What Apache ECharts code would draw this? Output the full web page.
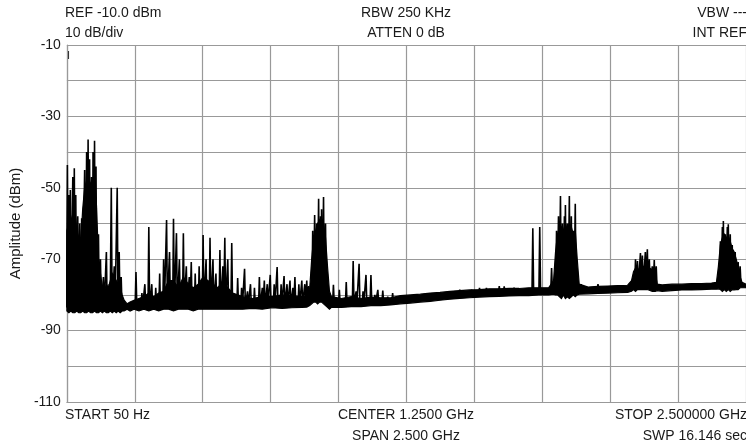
<!DOCTYPE html>
<html><head><meta charset="utf-8">
<script src="https://cdn.jsdelivr.net/npm/echarts@6/dist/echarts.min.js"></script>
<style>html,body{margin:0;padding:0;background:#fff}#c{width:746px;height:446px}</style>
</head><body><div id="c"></div>
<script>
// Frequency in MHz, amplitude in dBm
const yTickLabels = [-110, -90, -70, -50, -30, -10];
const headerTexts = ['REF -10.0 dBm', '10 dB/div', 'RBW 250 KHz', 'ATTEN 0 dB', 'VBW ---', 'INT REF'];
const footerTexts = ['START 50 Hz', 'CENTER 1.2500 GHz', 'SPAN 2.500 GHz', 'STOP 2.500000 GHz', 'SWP 16.146 sec'];

// Noise band envelope (lower / upper edge of the dense trace)
const bandFreq = [0,7.3,14.5,21.8,29.1,36.3,43.6,50.9,58.1,65.4,72.7,79.9,87.2,94.5,101.8,109.0,116.3,123.6,130.8,138.1,145.4,152.6,159.9,167.2,174.4,181.7,189.0,196.2,203.5,210.8,221.7,232.6,247.1,265.3,283.5,301.6,319.8,338.0,356.1,374.3,392.5,410.6,428.8,447.0,465.2,483.3,501.5,519.7,537.8,556.0,574.2,592.3,610.5,646.9,683.2,719.5,755.9,792.2,828.6,864.9,883.1,894.0,901.2,908.5,915.8,923.0,930.3,937.6,944.8,952.1,959.4,966.6,973.9,1010.3,1046.6,1082.9,1119.3,1155.6,1192.0,1228.3,1264.6,1301.0,1337.3,1373.7,1410.0,1446.3,1482.7,1519.0,1555.4,1591.7,1628.0,1664.4,1700.7,1737.1,1773.4,1791.6,1798.8,1806.1,1813.4,1820.6,1827.9,1835.2,1842.4,1849.7,1857.0,1864.2,1871.5,1878.8,1886.0,1918.8,1955.1,1991.4,2027.8,2064.1,2078.6,2085.9,2093.2,2100.5,2118.6,2136.8,2155.0,2165.9,2173.1,2191.3,2227.6,2264.0,2300.3,2336.6,2373.0,2391.2,2398.4,2405.7,2413.0,2420.2,2427.5,2434.8,2442.0,2449.3,2456.6,2463.9,2471.1,2478.4,2485.7,2500];
const bandLow = [-84.5,-85,-84.5,-85,-85,-84.5,-85,-85,-84.5,-85,-85,-84.5,-85,-85,-84.5,-85,-85,-84.5,-85,-84.5,-85,-85,-84.5,-85,-84.5,-85,-84.5,-85,-84.5,-84.5,-84,-84.5,-84,-84.5,-84,-84.5,-84,-84.5,-84,-84,-84.5,-84,-84,-84,-84.5,-84,-84,-84,-84,-84,-84,-84,-84,-84,-83.8,-84,-83.6,-83.8,-83.6,-83.5,-83.4,-83,-82.5,-82,-82,-82.5,-82,-82,-82.5,-83,-83.5,-84,-83.5,-83.5,-83.3,-83.3,-83,-83,-82.8,-82.5,-82.3,-82,-81.8,-81.5,-81.2,-81,-80.8,-80.6,-80.5,-80.4,-80.3,-80.2,-80.2,-80,-80,-79.8,-80,-80,-80.5,-81,-80,-81,-80.5,-81,-80.5,-80,-80.5,-80,-79.8,-79.7,-79.6,-79.5,-79.4,-79.3,-79,-78.5,-79,-78.5,-78.5,-78.5,-79,-79,-78.8,-79,-78.8,-78.6,-78.6,-78.5,-78.4,-78.4,-78.3,-78.5,-79,-78.5,-79,-78.5,-79,-78.5,-78.6,-78.5,-78.5,-78,-78,-78];
const bandHigh = [-62,-60,-58,-60,-56,-62,-64,-66,-56,-50,-48,-47,-49,-48,-47,-55,-70,-74,-78,-79,-77,-78,-76,-74,-75,-76,-77,-78,-80,-81.5,-82.5,-82,-81.5,-81,-80.5,-79.5,-80.5,-79.5,-79,-76,-76,-78,-75,-77,-78,-77,-75,-76,-77,-78,-76,-78,-79.5,-80.5,-81,-80.5,-80.5,-80,-80.3,-80.5,-80.5,-78,-70,-64,-62,-60,-59,-61,-60,-64,-72,-79,-80.5,-81,-80.5,-81,-80.6,-80.8,-80.8,-80.2,-80,-79.8,-79.5,-79.3,-79,-78.8,-78.6,-78.5,-78.3,-78.3,-78.2,-78.2,-78,-78,-78,-76,-68,-63,-62,-61,-62,-60,-62,-60,-61,-63,-62,-70,-77,-77.8,-77.6,-77.5,-77.4,-77.3,-76,-73.5,-72.5,-73,-72,-72,-73,-74,-77,-77.2,-77,-77,-76.8,-76.8,-76.7,-76.5,-72,-66,-64,-63,-64,-63.5,-65,-67,-68,-70,-72,-75,-76.5,-77];

// Individual spikes (peak frequency, peak level)
const spikeFreq = [1.8,7.3,12.7,21.8,27.3,32.7,40.0,47.2,54.5,65.4,72.7,78.1,83.6,90.9,96.3,101.8,107.2,116.3,123.6,134.5,145.4,156.3,163.5,174.4,185.3,192.6,199.9,254.4,276.2,287.1,301.6,312.5,327.1,341.6,356.1,367.0,377.9,392.5,403.4,414.3,428.8,439.7,450.6,457.9,472.4,486.9,501.5,512.4,526.9,537.8,548.7,563.3,574.2,581.4,592.3,606.9,628.7,643.2,654.1,665.0,675.9,690.5,708.6,719.5,726.8,737.7,748.6,763.1,774.0,788.6,799.5,810.4,821.3,832.2,839.5,854.0,864.9,875.8,883.1,890.3,904.9,912.1,919.4,926.7,933.9,937.6,944.8,952.1,981.2,1003.0,1028.4,1053.9,1064.8,1075.7,1090.2,1101.1,1119.3,1133.8,1144.7,1162.9,1181.1,1199.2,1446.3,1489.9,1519.0,1544.5,1591.7,1609.9,1646.2,1715.2,1740.7,1784.3,1802.5,1809.7,1817.0,1824.3,1831.5,1835.2,1842.4,1849.7,1857.0,1864.2,1871.5,1893.3,1955.1,2093.2,2100.5,2111.4,2118.6,2129.5,2136.8,2144.1,2155.0,2162.3,2169.5,2405.7,2413.0,2416.6,2423.9,2431.2,2434.8,2442.0,2449.3,2453.0,2460.2,2471.1,2478.4];
const spikeTop = [-43.6,-52,-50.6,-47,-44.5,-52,-58,-60,-58.5,-45,-40,-36.5,-42,-47,-40,-36.8,-44,-63,-70,-75,-68,-77,-50,-72,-50,-68,-75,-73.6,-79.5,-77,-61,-77,-78,-74,-70,-59,-68,-58.7,-62.7,-70,-62.7,-72,-75,-70.8,-74,-72,-63.2,-70,-64,-70,-74,-67.4,-72,-64,-70,-65.5,-75.3,-78,-72.7,-79,-77,-78,-75,-78,-76,-77,-74.4,-77,-72.2,-77,-74.7,-77,-76,-78,-75,-77,-76,-77,-76,-77.5,-62,-57.6,-60,-53.1,-58,-56,-52.6,-60,-77.2,-78.6,-76.4,-70.5,-79,-71.3,-79,-74.4,-74.4,-80,-78.6,-78.8,-80.5,-79.5,-78.5,-78.5,-78,-78,-77.5,-77.6,-78,-61.3,-61,-72.5,-62,-58,-52.3,-60,-58,-54.8,-60,-52.3,-58,-62,-54.5,-77,-77,-70,-70.5,-68.3,-69,-68,-67.2,-70,-72,-70.2,-72,-65,-61,-59.3,-63,-61,-60.2,-63,-66,-67.4,-68,-70.8,-72];

function nearestBandIndex(f) {
  let best = 0;
  for (let i = 1; i < bandFreq.length; i++) {
    if (Math.abs(bandFreq[i] - f) < Math.abs(bandFreq[best] - f)) best = i;
  }
  return best;
}
const spikeData = [];
spikeFreq.forEach((f, i) => {
  const k = nearestBandIndex(f);
  const base = bandLow[k] + 1;
  spikeData.push([f - 3, base], [f, spikeTop[i]], [f + 3, base]);
});

const FONT = '14px "Liberation Sans", Arial, sans-serif';
const TXT = '#1a1a1a';
function txt(text, x, y, align) {
  return { type: 'text', x: x, y: y, silent: true,
    style: { text: text, fill: TXT, font: FONT, align: align, verticalAlign: 'middle', textAlign: align, textVerticalAlign: 'middle' } };
}

const chart = echarts.init(document.getElementById('c'), null, { renderer: 'canvas' });
chart.setOption({
  animation: false,
  backgroundColor: '#fff',
  grid: { left: 62, top: 45, width: 688, height: 357 },
  xAxis: {
    type: 'value', min: 0, max: 2500, interval: 250,
    axisLine: { show: true, lineStyle: { color: '#999', width: 1.2 } },
    axisTick: { show: false },
    axisLabel: { show: false },
    splitLine: { show: true, lineStyle: { color: '#999', width: 1.2 } }
  },
  yAxis: {
    type: 'value', min: -110, max: -10, interval: 10,
    name: 'Amplitude (dBm)', nameLocation: 'middle', nameGap: 40,
    nameTextStyle: { color: TXT, fontSize: 15, fontFamily: '"Liberation Sans", Arial, sans-serif' },
    axisLine: { show: true, lineStyle: { color: '#999', width: 1.2 } },
    axisTick: { show: false },
    axisLabel: { color: TXT, fontSize: 14, fontFamily: '"Liberation Sans", Arial, sans-serif', margin: 6,
      formatter: v => (yTickLabels.indexOf(v) >= 0 ? String(v) : '') },
    splitLine: { show: true, lineStyle: { color: '#999', width: 1.2 } }
  },
  series: [
    { type: 'custom', clip: true, z: 3, data: [[bandFreq[0], bandLow[0]]],
      renderItem: function (params, api) {
        const pts = [];
        for (let i = 0; i < bandFreq.length; i++) pts.push(api.coord([bandFreq[i], bandHigh[i]]));
        for (let i = bandFreq.length - 1; i >= 0; i--) pts.push(api.coord([bandFreq[i], bandLow[i]]));
        return { type: 'polygon', shape: { points: pts }, style: { fill: '#000', stroke: '#000', lineWidth: 1.2 } };
      } },
    { type: 'line', data: spikeData, symbol: 'none',
      lineStyle: { color: '#000', width: 1.6 }, z: 4 }
  ],
  graphic: [
    txt(headerTexts[0], 65, 13, 'left'),
    txt(headerTexts[1], 65, 33, 'left'),
    txt(headerTexts[2], 406, 13, 'center'),
    txt(headerTexts[3], 406, 33, 'center'),
    txt(headerTexts[4], 747, 13, 'right'),
    txt(headerTexts[5], 747, 33, 'right'),
    txt(footerTexts[0], 65, 415, 'left'),
    txt(footerTexts[1], 406, 415, 'center'),
    txt(footerTexts[2], 406, 436, 'center'),
    txt(footerTexts[3], 747, 415, 'right'),
    txt(footerTexts[4], 747, 436, 'right'),
    { type: 'text', x: 67, y: 56, silent: true,
      style: { text: 'I', fill: TXT, font: '11px "Liberation Sans", Arial, sans-serif', align: 'left', verticalAlign: 'middle' } }
  ]
});
</script>
</body></html>
